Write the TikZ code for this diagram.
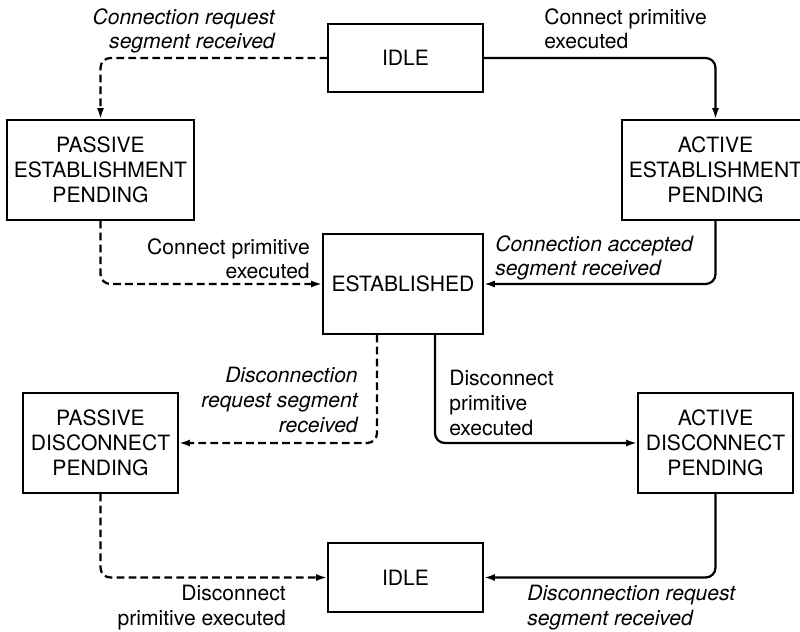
\documentclass[tikz,border=0pt]{standalone}
\usepackage{fontspec}
\setmainfont{TeX Gyre Heros}
\usetikzlibrary{arrows.meta, positioning, calc}

\begin{document}
\begin{tikzpicture}[
        x=0.025cm, y=-0.025cm,
        state/.style={rectangle, draw, line width=0.9pt, minimum width=3.875cm, minimum height=2.5cm, inner sep=0pt, align=center, font=\fontsize{15}{17.6}\selectfont},
        lbl/.style={inner sep=0pt, font=\fontsize{15}{17.6}\selectfont},
        lbli/.style={lbl, font=\fontsize{15}{17.6}\selectfont\itshape},
        act/.style={line width=1.6pt, rounded corners=7pt, -{Latex[length=8pt,width=5pt]}},
        pas/.style={act, dash pattern=on 5.5pt off 3pt}
    ]
        \useasboundingbox (0,0) rectangle (800,631);

        % states
        \node[state, minimum height=1.7cm] (I1) at (405.5,58) {IDLE};
        \node[state, minimum width=4.675cm] (PE) at (100.5,170) {PASSIVE\\ESTABLISHMENT\\PENDING};
        \node[state, minimum width=4.675cm] (AE) at (715.5,170) {ACTIVE\\ESTABLISHMENT\\PENDING};
        \node[state, minimum width=4cm] (E) at (403,284) {ESTABLISHED};
        \node[state] (PD) at (100.5,443) {PASSIVE\\DISCONNECT\\PENDING};
        \node[state] (AD) at (715.5,443) {ACTIVE\\DISCONNECT\\PENDING};
        \node[state, minimum height=1.725cm] (I2) at (405.5,577.5) {IDLE};

        % transitions
        \draw[pas] (I1.west) -| (PE.north);
        \draw[act] (I1.east) -| (AE.north);
        \draw[pas] (PE.south) |- (E.west);
        \draw[act] (AE.south) |- (E.east);
        \draw[pas] ($(E.south)+(-26,0)$) |- (PD.east);
        \draw[act] ($(E.south)+(32,0)$) |- (AD.west);
        \draw[pas] (PD.south) |- (I2.west);
        \draw[act] (AD.south) |- (I2.east);

        % labels
        \node[lbli, align=right, anchor=north east] (L1) at (275,8) {Connection request\\segment received};
        \node[lbl, align=left, anchor=north west] (L2) at (544,8) {Connect primitive\\executed};
        \node[lbl, align=right, anchor=north east] (L3) at (310,238) {Connect primitive\\executed};
        \node[lbli, align=left, anchor=north west] (L4) at (495,235) {Connection accepted\\segment received};
        \node[lbli, align=right, anchor=north east] (L5) at (358,367) {Disconnection\\request segment\\received};
        \node[lbl, align=left, anchor=north west] (L6) at (449,370) {Disconnect\\primitive\\executed};
        \node[lbl, align=right, anchor=north east] (L7) at (286,585) {Disconnect\\primitive executed};
        \node[lbli, align=left, anchor=north west] (L8) at (527,585) {Disconnection request\\segment received};
\end{tikzpicture}
\end{document}
